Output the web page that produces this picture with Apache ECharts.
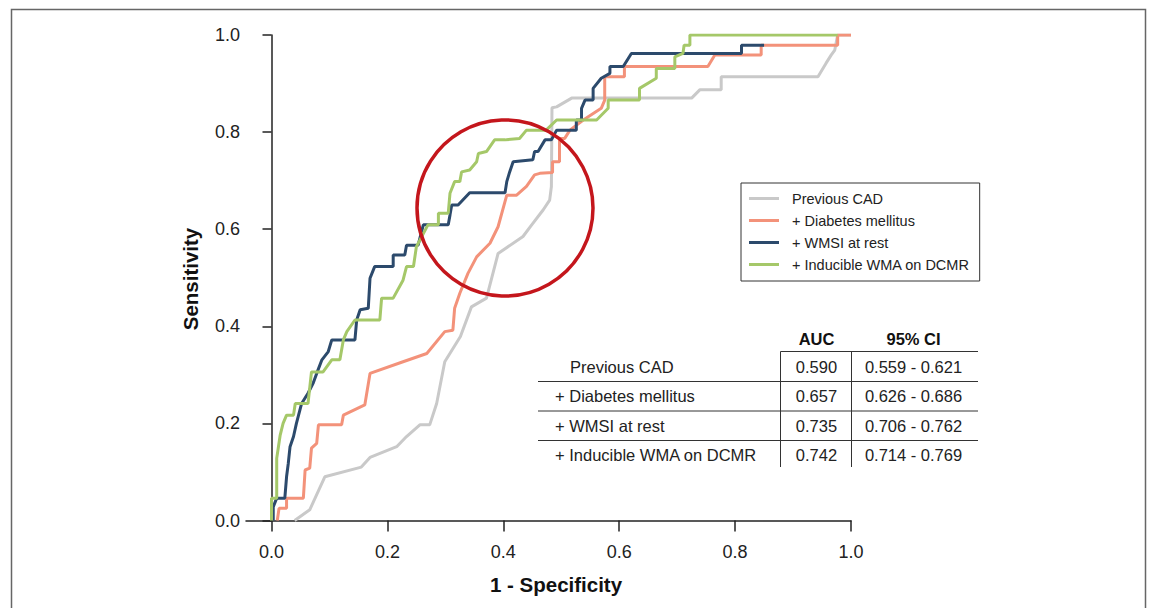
<!DOCTYPE html>
<html>
<head>
<meta charset="utf-8">
<script src="https://cdn.jsdelivr.net/npm/echarts@6/dist/echarts.min.js"></script>
<style>
  html, body { margin: 0; padding: 0; background: #fff; }
  #chart { width: 1153px; height: 608px; }
</style>
</head>
<body>
<div id="chart"></div>
<script>
// ---- data: [1 - specificity, sensitivity] ----
const seriesNames = ['Previous CAD', '+ Diabetes mellitus', '+ WMSI at rest', '+ Inducible WMA on DCMR'];
const seriesColors = ['#c9c9c9', '#f3927a', '#2c4a6c', '#a5c869'];

const rocPrevCad = [[0.04,0],[0.066,0.022],[0.092,0.09],[0.155,0.11],[0.17,0.13],[0.216,0.152],[0.233,0.173],[0.256,0.197],[0.273,0.197],[0.285,0.241],[0.299,0.327],[0.326,0.379],[0.345,0.44],[0.371,0.458],[0.391,0.55],[0.434,0.585],[0.449,0.609],[0.469,0.64],[0.48,0.66],[0.483,0.688],[0.484,0.85],[0.492,0.852],[0.518,0.87],[0.725,0.87],[0.739,0.887],[0.776,0.887],[0.776,0.914],[0.943,0.914],[0.957,0.942],[0.966,0.959],[0.972,0.969],[0.977,1.0],[1,1]];

const rocDiabetes = [[0.01,0],[0.013,0.025],[0.026,0.025],[0.026,0.046],[0.055,0.046],[0.058,0.104],[0.066,0.108],[0.069,0.149],[0.078,0.159],[0.081,0.197],[0.121,0.197],[0.124,0.217],[0.161,0.238],[0.17,0.303],[0.227,0.327],[0.268,0.344],[0.299,0.389],[0.313,0.392],[0.316,0.437],[0.325,0.468],[0.339,0.509],[0.354,0.543],[0.377,0.571],[0.391,0.605],[0.406,0.67],[0.423,0.67],[0.44,0.688],[0.454,0.712],[0.463,0.715],[0.485,0.717],[0.485,0.739],[0.497,0.739],[0.497,0.787],[0.506,0.787],[0.515,0.804],[0.538,0.825],[0.569,0.849],[0.575,0.866],[0.575,0.914],[0.609,0.914],[0.609,0.935],[0.753,0.935],[0.765,0.959],[0.845,0.959],[0.845,0.979],[0.977,0.979],[0.977,1.0],[1.0,1.0]];

// the top end of this curve runs under the diabetes curve
const rocWmsi = [[0.003,0],[0.003,0.028],[0.009,0.046],[0.023,0.046],[0.026,0.09],[0.029,0.118],[0.032,0.152],[0.038,0.173],[0.043,0.2],[0.052,0.241],[0.063,0.262],[0.072,0.283],[0.078,0.303],[0.087,0.331],[0.098,0.348],[0.104,0.372],[0.144,0.372],[0.147,0.413],[0.153,0.434],[0.167,0.437],[0.17,0.499],[0.178,0.523],[0.21,0.523],[0.21,0.547],[0.23,0.547],[0.233,0.567],[0.253,0.567],[0.262,0.609],[0.305,0.609],[0.308,0.629],[0.311,0.65],[0.322,0.65],[0.342,0.675],[0.403,0.675],[0.406,0.698],[0.411,0.718],[0.417,0.739],[0.451,0.743],[0.454,0.76],[0.46,0.76],[0.472,0.784],[0.483,0.784],[0.492,0.804],[0.526,0.804],[0.526,0.825],[0.535,0.825],[0.535,0.849],[0.541,0.866],[0.555,0.866],[0.555,0.89],[0.569,0.911],[0.584,0.921],[0.584,0.935],[0.607,0.935],[0.621,0.962],[0.811,0.962],[0.811,0.979],[0.85,0.979]];

const rocInducible = [[0,0],[0,0.046],[0.009,0.046],[0.009,0.128],[0.012,0.152],[0.015,0.176],[0.02,0.2],[0.026,0.217],[0.038,0.217],[0.041,0.241],[0.063,0.241],[0.069,0.306],[0.089,0.306],[0.104,0.331],[0.118,0.331],[0.124,0.372],[0.13,0.389],[0.144,0.413],[0.187,0.413],[0.19,0.458],[0.21,0.458],[0.227,0.495],[0.233,0.523],[0.245,0.523],[0.25,0.564],[0.27,0.609],[0.288,0.609],[0.288,0.633],[0.305,0.633],[0.308,0.674],[0.316,0.698],[0.325,0.698],[0.328,0.718],[0.342,0.722],[0.354,0.739],[0.357,0.756],[0.371,0.76],[0.385,0.784],[0.403,0.784],[0.428,0.787],[0.44,0.804],[0.474,0.804],[0.492,0.825],[0.561,0.825],[0.581,0.849],[0.581,0.866],[0.635,0.866],[0.635,0.89],[0.664,0.911],[0.664,0.931],[0.696,0.931],[0.696,0.955],[0.71,0.962],[0.712,0.979],[0.722,0.979],[0.722,1.0],[0.977,1.0]];

const rocCurves = [rocPrevCad, rocDiabetes, rocWmsi, rocInducible];
const drawOrder = [1, 2, 3, 4];

const axisTicks = [0, 0.2, 0.4, 0.6, 0.8, 1.0];

// AUC table
const tableHeaders = ['AUC', '95% CI'];
const tableLabels = ['Previous CAD', '+ Diabetes mellitus', '+ WMSI at rest', '+ Inducible WMA on DCMR'];
const aucValues = ['0.590', '0.657', '0.735', '0.742'];
const ciValues = ['0.559 - 0.621', '0.626 - 0.686', '0.706 - 0.762', '0.714 - 0.769'];

// ---- chart ----
const FONT = '"Liberation Sans", Arial, Helvetica, sans-serif';
const chart = echarts.init(document.getElementById('chart'), null, { renderer: 'svg' });

// table graphic (lines + text)
const rowY = [367, 396, 425.5, 455];
const tableGraphic = [];
tableGraphic.push({ type: 'text', x: 816.5, y: 338.5, style: { text: tableHeaders[0], font: 'bold 16.5px ' + FONT, fill: '#111', align: 'center', verticalAlign: 'middle' } });
tableGraphic.push({ type: 'text', x: 913.5, y: 338.5, style: { text: tableHeaders[1], font: 'bold 16.5px ' + FONT, fill: '#111', align: 'center', verticalAlign: 'middle' } });
tableGraphic.push({ type: 'line', shape: { x1: 780.5, y1: 351.5, x2: 978, y2: 351.5 }, style: { stroke: '#333', lineWidth: 1 } });
[381.5, 411, 440.5].forEach(y => {
    tableGraphic.push({ type: 'line', shape: { x1: 538, y1: y, x2: 978, y2: y }, style: { stroke: '#333', lineWidth: 1 } });
});
[780.5, 851.5].forEach(x => {
    tableGraphic.push({ type: 'line', shape: { x1: x, y1: 351.5, x2: x, y2: 467 }, style: { stroke: '#333', lineWidth: 1 } });
});
tableLabels.forEach((lab, i) => {
    tableGraphic.push({ type: 'text', x: i === 0 ? 570 : 555, y: rowY[i], style: { text: lab, font: '16.5px ' + FONT, fill: '#222', verticalAlign: 'middle' } });
    tableGraphic.push({ type: 'text', x: 816.5, y: rowY[i], style: { text: aucValues[i], font: '16.5px ' + FONT, fill: '#222', align: 'center', verticalAlign: 'middle' } });
    tableGraphic.push({ type: 'text', x: 913.5, y: rowY[i], style: { text: ciValues[i], font: '16.5px ' + FONT, fill: '#222', align: 'center', verticalAlign: 'middle' } });
});

chart.setOption({
    animation: false,
    backgroundColor: '#fff',
    grid: { left: 246, right: 302, top: 35, bottom: 87.5, containLabel: false },
    xAxis: {
        type: 'value', min: -0.044, max: 1,
        splitLine: { show: false },
        axisLine: { lineStyle: { color: '#222', width: 1.5 } },
        axisTick: { show: true, length: 11, customValues: axisTicks, lineStyle: { color: '#222', width: 1.5 } },
        axisLabel: { customValues: axisTicks, margin: 22, fontSize: 18, color: '#222', fontFamily: FONT, formatter: v => v.toFixed(1) }
    },
    yAxis: {
        type: 'value', min: 0, max: 1, interval: 0.2, offset: -10,
        splitLine: { show: false },
        axisLine: { show: true, lineStyle: { color: '#222', width: 1.5 } },
        axisTick: { show: true, length: 9, lineStyle: { color: '#222', width: 1.5 } },
        axisLabel: { margin: 16, fontSize: 18, color: '#222', fontFamily: FONT, formatter: v => v.toFixed(1) }
    },
    legend: {
        orient: 'vertical', left: 741, top: 183,
        data: seriesNames,
        icon: 'rect', itemWidth: 30, itemHeight: 3, itemGap: 7,
        padding: [8, 10, 9, 8],
        borderColor: '#333', borderWidth: 1,
        selectedMode: false,
        textStyle: { fontSize: 14.5, color: '#222', fontFamily: FONT, lineHeight: 14, padding: [0, 0, 0, 8] }
    },
    series: rocCurves.map((d, i) => ({
        name: seriesNames[i],
        type: 'line',
        data: d,
        showSymbol: false,
        symbol: 'none',
        color: seriesColors[i],
        lineStyle: { color: seriesColors[i], width: 3 },
        z: drawOrder[i]
    })),
    graphic: [
        { type: 'rect', shape: { x: 11.5, y: 9.5, width: 1134, height: 640 }, style: { fill: 'none', stroke: '#666', lineWidth: 1.5 }, silent: true },
        { type: 'text', x: 556, y: 584, style: { text: '1 - Specificity', font: 'bold 20.5px ' + FONT, fill: '#111', align: 'center', verticalAlign: 'middle' } },
        { type: 'text', x: 190, y: 279, rotation: Math.PI / 2, style: { text: 'Sensitivity', font: 'bold 20.5px ' + FONT, fill: '#111', align: 'center', verticalAlign: 'middle' } },
        { type: 'circle', shape: { cx: 505, cy: 208, r: 88 }, style: { fill: 'none', stroke: '#c4161c', lineWidth: 3.5 }, z: 100 }
    ].concat(tableGraphic)
});
</script>
</body>
</html>
